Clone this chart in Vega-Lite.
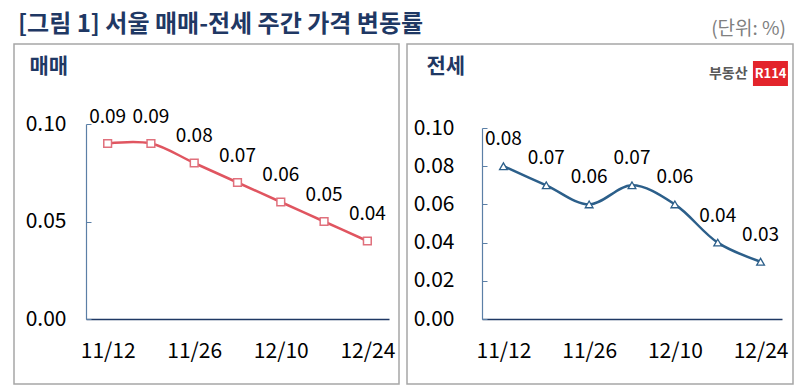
{
  "$schema": "https://vega.github.io/schema/vega-lite/v6.json",
  "padding": {"left": 13, "top": 12, "right": 9, "bottom": 9},
  "background": "white",
  "bounds": "flush",
  "spacing": 8,
  "config": {
    "view": {"stroke": "#a6a6a6", "strokeWidth": 1.5},
    "font": "Noto Sans CJK KR"
  },
  "datasets": {
    "sale": [
      {"week": "11/12", "value": 0.09},
      {"week": "11/19", "value": 0.09},
      {"week": "11/26", "value": 0.08},
      {"week": "12/3", "value": 0.07},
      {"week": "12/10", "value": 0.06},
      {"week": "12/17", "value": 0.05},
      {"week": "12/24", "value": 0.04}
    ],
    "jeonse": [
      {"week": "11/12", "value": 0.08},
      {"week": "11/19", "value": 0.07},
      {"week": "11/26", "value": 0.06},
      {"week": "12/3", "value": 0.07},
      {"week": "12/10", "value": 0.06},
      {"week": "12/17", "value": 0.04},
      {"week": "12/24", "value": 0.03}
    ],
    "logo": [{"brand": "부동산", "mark": "R114"}]
  },
  "hconcat": [
    {
      "width": 385,
      "height": 340,
      "title": {"text": "[그림 1] 서울 매매-전세 주간 가격 변동률", "anchor": "start", "fontSize": 24, "fontWeight": "bold", "color": "#1f3864", "offset": 7, "dx": 4},
      "data": {"name": "sale"},
      "encoding": {
        "x": {
          "field": "week", "type": "ordinal", "sort": null,
          "scale": {"type": "point", "range": [72, 375], "padding": 0.5},
          "axis": {"values": ["11/12", "11/26", "12/10", "12/24"], "title": null, "offset": -65, "domainColor": "#1f3864", "domainWidth": 1.5, "ticks": false, "labelAngle": 0, "labelFontSize": 21, "labelColor": "black", "labelPadding": 21, "grid": false}
        },
        "y": {
          "field": "value", "type": "quantitative",
          "scale": {"domain": [0, 0.1], "range": [275, 80], "nice": false},
          "axis": {"values": [0, 0.05, 0.1], "format": ".2f", "offset": -72, "domainColor": "#5b7fa6", "domainWidth": 1.2, "tickColor": "#5b7fa6", "tickSize": -5, "labelFontSize": 21, "labelColor": "black", "labelPadding": 25, "grid": false, "title": "매매", "titleAngle": 0, "titleX": -57, "titleY": 28, "titleAlign": "left", "titleBaseline": "alphabetic", "titleFontSize": 21, "titleFontWeight": "bold", "titleColor": "#1f3864"}
        }
      },
      "layer": [
        {"mark": {"type": "line", "interpolate": "catmull-rom", "color": "#e05560", "strokeWidth": 2.5}},
        {"mark": {"type": "point", "shape": "square", "filled": true, "fill": "white", "stroke": "#e0707c", "strokeWidth": 1.5, "size": 60, "opacity": 1}},
        {"mark": {"type": "text", "dy": -27, "fontSize": 19, "color": "black"}, "encoding": {"text": {"field": "value", "type": "quantitative", "format": ".2f"}}}
      ]
    },
    {
      "width": 386,
      "height": 340,
      "title": {"text": "(단위: %)", "anchor": "end", "fontSize": 19, "fontWeight": "normal", "color": "#808080", "offset": 5, "dx": -7},
      "layer": [
        {
          "data": {"name": "jeonse"},
          "encoding": {
            "x": {
              "field": "week", "type": "ordinal", "sort": null,
              "scale": {"type": "point", "range": [75, 375], "padding": 0.5},
              "axis": {"values": ["11/12", "11/26", "12/10", "12/24"], "title": null, "offset": -65, "domainColor": "#1f3864", "domainWidth": 1.5, "ticks": false, "labelAngle": 0, "labelFontSize": 21, "labelColor": "black", "labelPadding": 21, "grid": false}
            },
            "y": {
              "field": "value", "type": "quantitative",
              "scale": {"domain": [0, 0.1], "range": [275, 84], "nice": false},
              "axis": {"values": [0, 0.02, 0.04, 0.06, 0.08, 0.1], "format": ".2f", "offset": -75, "domainColor": "#5b7fa6", "domainWidth": 1.2, "tickColor": "#5b7fa6", "tickSize": -5, "labelFontSize": 21, "labelColor": "black", "labelPadding": 33, "grid": false, "title": "전세", "titleAngle": 0, "titleX": -56, "titleY": 28, "titleAlign": "left", "titleBaseline": "alphabetic", "titleFontSize": 21, "titleFontWeight": "bold", "titleColor": "#1f3864"}
            }
          },
          "layer": [
            {"mark": {"type": "line", "interpolate": "catmull-rom", "color": "#2c5f8a", "strokeWidth": 2.5}},
            {"mark": {"type": "point", "shape": "triangle-up", "filled": true, "fill": "white", "stroke": "#2c5f8a", "strokeWidth": 1.3, "size": 60, "opacity": 1}},
            {"mark": {"type": "text", "dy": -27, "fontSize": 19, "color": "black"}, "encoding": {"text": {"field": "value", "type": "quantitative", "format": ".2f"}}}
          ]
        },
        {
          "data": {"name": "logo"},
          "encoding": {
            "x": {"datum": "12/24", "type": "ordinal"},
            "y": {"datum": 0.1285, "type": "quantitative"}
          },
          "layer": [
            {"mark": {"type": "point", "shape": "M-0.61,-1L2.19,-1L2.19,1L-0.61,1Z", "size": 625, "filled": true, "fill": "#e3242b", "strokeWidth": 0, "opacity": 1}},
            {"mark": {"type": "text", "dx": 10, "fontSize": 13, "fontWeight": "bold", "color": "white", "align": "center", "baseline": "middle"}, "encoding": {"text": {"field": "mark"}}},
            {"mark": {"type": "text", "dx": -13, "fontSize": 14, "fontWeight": "bold", "color": "#595959", "align": "right", "baseline": "middle"}, "encoding": {"text": {"field": "brand"}}}
          ]
        }
      ]
    }
  ]
}
